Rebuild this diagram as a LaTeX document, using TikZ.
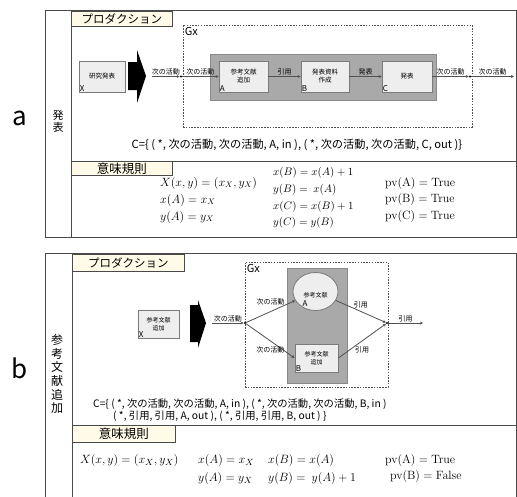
\documentclass[tikz,border=0pt]{standalone}
\usepackage[no-math]{fontspec}
\setmainfont{Noto Sans CJK JP}
\usepackage{amsmath}
\usepackage{xcolor}
\usepackage{tikz}
\usetikzlibrary{positioning, arrows.meta, shapes.geometric}

\definecolor{framegray}{HTML}{4A4A4A}
\definecolor{tabfill}{HTML}{FFFBE8}
\definecolor{boxfill}{HTML}{EEEEEE}
\definecolor{boxline}{HTML}{7A7A7A}
\definecolor{grpfill}{HTML}{A9A9A9}
\definecolor{grpline}{HTML}{8A8A8A}
\definecolor{flowgray}{HTML}{505050}

\begin{document}
\begin{tikzpicture}[
    x=1pt, y=-1pt,
    frame/.style={
        draw=framegray,
        line width=1pt
    },
    tab/.style={
        draw=framegray,
        line width=0.9pt,
        fill=tabfill,
        anchor=north west,
        inner sep=0pt
    },
    procbox/.style={
        draw=boxline,
        fill=boxfill,
        line width=0.8pt,
        align=center,
        inner sep=1pt,
        font=\fontsize{6.5}{8}\selectfont
    },
    groupbox/.style={
        draw=grpline,
        fill=grpfill,
        line width=0.8pt
    },
    gxbox/.style={
        draw=flowgray,
        line width=0.6pt,
        dash pattern=on 1.5pt off 1.3pt
    },
    tag/.style={
        inner sep=1pt,
        font=\fontsize{8}{9}\selectfont
    },
    elabel/.style={
        inner sep=0.8pt,
        font=\fontsize{7}{8}\selectfont
    },
    flow/.style={
        draw=flowgray,
        line width=0.8pt,
        -{Stealth[length=3pt,width=3pt]}
    },
    dot/.style={
        fill=black,
        circle,
        inner sep=0pt,
        minimum size=2.2pt
    },
    eqn/.style={
        anchor=west,
        inner sep=0pt
    }
]

\useasboundingbox (0,0) rectangle (517,496);
\clip (0,0) rectangle (517,496);

% ==========================================
% a : 発表
% ==========================================

% Frame
\draw[frame] (45,10) rectangle (516,237);
\draw[frame] (71,10) -- (71,237);
\draw[frame] (71,161) -- (516,161);
\node[font=\fontsize{26}{26}\selectfont] (letterA) at (20,118) {a};
\node[align=center, font=\fontsize{11}{12}\selectfont] (sideA) at (58,121) {発\\表};

\node[tab, minimum width=101, minimum height=15, font=\fontsize{11.5}{12}\selectfont] (prodA) at (71,11) {プロダクション};
\node[tab, minimum width=101, minimum height=14, font=\fontsize{12.5}{13}\selectfont] (semA) at (71,161) {意味規則};

% Source and big arrow
\node[procbox, minimum width=46, minimum height=31] (xA) at (102,76.5) {研究発表};
\node[tag, anchor=south west] at (xA.south west) {X};
\fill (128,62) -- (137,62) -- (137,50) -- (146,76) -- (137,103) -- (137,90) -- (128,90) -- cycle;

% Gx
\node[gxbox, minimum width=289, minimum height=102] (gxA) at (327.5,76) {};
\node[anchor=north west, inner sep=2pt, font=\fontsize{11}{12}\selectfont] at (gxA.north west) {Gx};
\node[groupbox, minimum width=226, minimum height=46] (grpA) at (323,77) {};

\node[procbox, minimum width=49, minimum height=31] (nA) at (243.5,76.5) {参考文献\\追加};
\node[procbox, minimum width=48, minimum height=31] (nB) at (325,76.5) {発表資料\\作成};
\node[procbox, minimum width=50, minimum height=31] (nC) at (407,76.5) {発表};
\node[tag, anchor=south west] at (nA.south west) {A};
\node[tag, anchor=south west] at (nB.south west) {B};
\node[tag, anchor=south west] at (nC.south west) {C};

% Flow
\coordinate (inA) at (152,76.5);
\node[dot] (d1) at (181,76.5) {};
\node[dot] (d2) at (470,76.5) {};
\coordinate (outA) at (514,76.5);

\draw[flow] (inA) -- node[elabel, above] {次の活動} (d1);
\draw[flow] (d1) -- node[elabel, above] {次の活動} (nA.west);
\draw[flow] (nA.east) -- node[elabel, above] {引用} (nB.west);
\draw[flow] (nB.east) -- node[elabel, above] {発表} (nC.west);
\draw[flow] (nC.east) -- node[elabel, above] {次の活動} (d2);
\draw[flow] (d2) -- node[elabel, above] {次の活動} (outA);

\node[font=\fontsize{11.2}{13}\selectfont] (condA) at (297,145) {C=\{ ( *, 次の活動, 次の活動, A, in ), ( *, 次の活動, 次の活動, C, out )\}};

% Semantic rules
\begin{scope}[font=\fontsize{12}{14}\selectfont]
    \node[eqn] (ea1) at (160,183) {$X(x,y) = (x_X, y_X)$};
    \node[eqn] (ea2) at (160,200) {$x(A) = x_X$};
    \node[eqn] (ea3) at (160,217) {$y(A) = y_X$};
\end{scope}
\begin{scope}[font=\fontsize{10.5}{12}\selectfont]
    \node[eqn] (eb1) at (273,173) {$x(B) = x(A) + 1$};
    \node[eqn] (eb2) at (273,190) {$y(B) = \ x(A)$};
    \node[eqn] (eb3) at (273,207) {$x(C) = x(B) + 1$};
    \node[eqn] (eb4) at (273,223) {$y(C) = y(B)$};
\end{scope}
\begin{scope}[font=\fontsize{12.5}{14}\selectfont]
    \node[eqn] (ec1) at (385,183) {$\mathrm{pv(A) = True}$};
    \node[eqn] (ec2) at (385,199) {$\mathrm{pv(B) = True}$};
    \node[eqn] (ec3) at (385,216) {$\mathrm{pv(C) = True}$};
\end{scope}


% ==========================================
% b : 参考文献追加
% ==========================================

% Frame
\draw[frame] (45,253) rectangle (516,505);
\draw[frame] (72,253) -- (72,505);
\draw[frame] (72,425) -- (516,425);
\node[font=\fontsize{26}{26}\selectfont] (letterB) at (20,368) {b};
\node[align=center, font=\fontsize{12}{13.7}\selectfont] (sideB) at (57,374) {参\\考\\文\\献\\追\\加};

\node[tab, minimum width=112, minimum height=17, font=\fontsize{11.5}{12}\selectfont] (prodB) at (72,254) {プロダクション};
\node[tab, minimum width=103, minimum height=17, font=\fontsize{12.5}{13}\selectfont] (semB) at (72,425) {意味規則};

% Source and big arrow
\node[procbox, minimum width=41, minimum height=28, font=\fontsize{6}{7.5}\selectfont] (xB) at (158.5,324) {参考文献\\追加};
\node[tag, anchor=south west] at (xB.south west) {X};
\fill (190,305) -- (198,305) -- (198,300) -- (206,323) -- (198,348) -- (198,342) -- (190,342) -- cycle;

% Gx
\node[gxbox, minimum width=143, minimum height=125] (gxB) at (316.5,324.5) {};
\node[anchor=north west, inner sep=2pt, font=\fontsize{11}{12}\selectfont] at (gxB.north west) {Gx};
\node[groupbox, minimum width=60, minimum height=115] (grpB) at (317,325.5) {};

\node[ellipse, draw=boxline, fill=boxfill, line width=0.8pt, minimum width=45, minimum height=38, inner sep=0pt] (cA) at (315.5,291.5) {};
\node[font=\fontsize{6}{7}\selectfont, inner sep=0pt] at (cA.center) [yshift=-4pt] {参考文献};
\node[tag] at (305,304) {A};
\node[procbox, minimum width=43, minimum height=28, font=\fontsize{6}{7.5}\selectfont] (nBb) at (316.5,358) {参考文献\\追加};
\node[tag, anchor=south west] at (nBb.south west) {B};

% Flow
\coordinate (inB) at (212,323);
\node[dot] (dL) at (245,323) {};
\node[dot] (dR) at (387,323) {};
\coordinate (outB) at (423,323);

\draw[flow] (inB) -- node[elabel, above] {次の活動} (dL);
\draw[flow] (dL) -- node[elabel, above=5pt] {次の活動} (cA);
\draw[flow] (dL) -- node[elabel, below=5pt] {次の活動} (nBb.west);
\draw[flow] (cA) -- node[elabel, above=2pt] {引用} (dR);
\draw[flow] (nBb.east) -- node[elabel, below=5pt] {引用} (dR);
\draw[flow] (dR) -- node[elabel, above] {引用} (outB);

\node[anchor=west, inner sep=0pt, font=\fontsize{10.3}{12}\selectfont] (condB1) at (93,404) {C=\{ ( *, 次の活動, 次の活動, A, in ), ( *, 次の活動, 次の活動, B, in )};
\node[anchor=west, inner sep=0pt, font=\fontsize{10.3}{12}\selectfont] (condB2) at (113,416) {( *, 引用, 引用, A, out ), ( *, 引用, 引用, B, out ) \}};

% Semantic rules
\begin{scope}[font=\fontsize{12.5}{15}\selectfont]
    \node[eqn] (fa1) at (80,460) {$X(x,y) = (x_X, y_X)$};
    \node[eqn] (fa2) at (198,460) {$x(A) = x_X$};
    \node[eqn] (fa3) at (198,478) {$y(A) = y_X$};
    \node[eqn] (fb1) at (268,460) {$x(B) = x(A)$};
    \node[eqn] (fb2) at (268,478) {$y(B) = \ y(A) + 1$};
    \node[eqn] (fc1) at (385,460) {$\mathrm{pv(A) = True}$};
    \node[eqn] (fc2) at (390,476) {$\mathrm{pv(B) = False}$};
\end{scope}

\end{tikzpicture}
\end{document}
